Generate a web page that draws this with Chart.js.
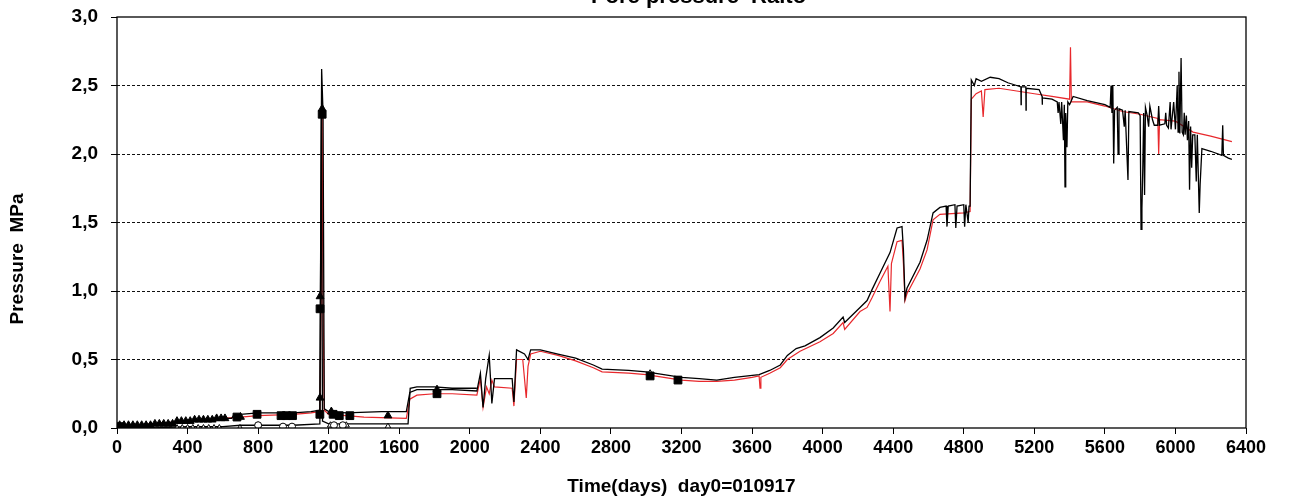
<!DOCTYPE html>
<html lang="en">
<head>
  <meta charset="UTF-8">
  <title>Pore pressure Raito</title>
  <script src="https://cdn.jsdelivr.net/npm/chart.js"></script>
  <style>
    html, body { margin: 0; padding: 0; background: #fff; overflow: hidden; }
    #wrap { position: relative; width: 1289px; height: 502px; }
  </style>
</head>
<body>
  <div id="wrap"><canvas id="poreChart" width="1289" height="502"></canvas></div>
  <script>
    // --- data: [day, MPa] ---
    const titleText = 'Pore pressure  Raito';
    const xTitle = 'Time(days)  day0=010917';
    const yTitle = 'Pressure  MPa';

    const xTicks = [0, 400, 800, 1200, 1600, 2000, 2400, 2800, 3200, 3600, 4000, 4400, 4800, 5200, 5600, 6000, 6400];
    const yTicks = [0, 0.5, 1, 1.5, 2, 2.5, 3];
    const yTickLabels = ['0,0', '0,5', '1,0', '1,5', '2,0', '2,5', '3,0'];

    const blackUpper = [
      [0,0.02],[100,0.02],[200,0.03],[300,0.04],[400,0.05],[500,0.06],[600,0.07],[650,0.07],[660,0.09],[700,0.10],
      [800,0.11],[1000,0.11],[1100,0.12],[1150,0.13],[1160,2.62],[1168,2.30],[1175,0.14],[1200,0.12],[1300,0.11],
      [1500,0.12],[1640,0.12],[1660,0.26],[1700,0.28],[1800,0.28],[1900,0.28],[2040,0.27],[2060,0.40],[2075,0.15],
      [2090,0.36],[2110,0.53],[2125,0.18],[2140,0.36],[2240,0.36],[2250,0.19],[2265,0.57],[2310,0.54],[2330,0.50],
      [2345,0.57],[2400,0.57],[2500,0.54],[2600,0.51],[2700,0.46],[2750,0.43],[2900,0.42],[3000,0.41],[3100,0.39],
      [3200,0.37],[3300,0.36],[3400,0.35],[3500,0.37],[3640,0.39],[3700,0.42],[3760,0.46],[3800,0.53],[3850,0.58],
      [3900,0.60],[3985,0.66],[4060,0.73],[4116,0.81],[4125,0.77],[4212,0.88],[4252,0.93],[4280,1.01],[4325,1.13],
      [4382,1.28],[4422,1.46],[4450,1.47],[4458,1.30],[4467,0.95],[4478,1.02],[4552,1.21],[4592,1.37],[4626,1.57],
      [4665,1.61],[4700,1.62],[4705,1.47],[4712,1.62],[4750,1.63],[4755,1.46],[4762,1.62],[4800,1.63],[4805,1.47],
      [4812,1.63],[4825,1.50],[4830,1.62],[4836,1.62],[4843,2.54],[4860,2.50],[4870,2.55],[4900,2.53],[4950,2.56],
      [5000,2.55],[5050,2.52],[5100,2.50],[5124,2.49],[5125,2.36],[5126,2.49],[5152,2.49],[5153,2.32],[5154,2.48],
      [5227,2.47],[5244,2.42],[5245,2.36],[5246,2.41],[5300,2.40],[5330,2.38],[5335,2.30],[5340,2.38],[5350,2.22],
      [5355,2.38],[5365,2.10],[5370,2.36],[5374,1.76],[5378,2.30],[5385,2.05],[5390,2.38],[5400,2.36],[5420,2.42],
      [5500,2.39],[5600,2.36],[5630,2.34],[5635,2.50],[5640,2.30],[5645,2.50],[5650,1.93],[5655,2.32],[5670,2.34],
      [5675,2.00],[5680,2.33],[5700,2.32],[5710,2.20],[5715,2.32],[5731,1.81],[5736,2.31],[5790,2.30],[5800,2.28],
      [5805,1.45],[5810,1.60],[5815,1.90],[5820,2.30],[5825,1.70],[5830,2.34],[5840,2.28],[5848,2.20],[5855,2.35],
      [5870,2.25],[5880,2.21],[5900,2.21],[5905,2.35],[5910,2.21],[5940,2.22],[5945,2.30],[5950,2.21],[5960,2.19],
      [5970,2.38],[5975,2.18],[5990,2.38],[6000,2.18],[6010,2.50],[6015,2.16],[6020,2.60],[6025,2.15],[6032,2.70],
      [6038,2.16],[6045,2.14],[6050,2.30],[6055,2.14],[6062,2.28],[6068,2.10],[6075,2.24],[6080,1.74],[6086,2.20],
      [6092,1.90],[6098,2.14],[6110,2.14],[6118,1.80],[6124,2.14],[6135,1.57],[6140,1.78],[6150,2.04],[6200,2.02],
      [6263,1.99],[6268,2.21],[6272,1.99],[6300,1.97],[6320,1.96]
    ];

    const blackLower = [
      [0,0.00],[200,0.00],[400,0.01],[600,0.01],[700,0.02],[1000,0.02],[1150,0.03],[1158,2.30],[1165,0.05],
      [1200,0.03],[1400,0.03],[1650,0.03],[1662,0.29],[1700,0.30],[1800,0.30],[1900,0.29],[2040,0.29]
    ];

    const redSeries = [
      [0,0.01],[200,0.03],[400,0.05],[600,0.07],[700,0.08],[800,0.09],[1000,0.10],[1100,0.11],[1150,0.12],
      [1158,1.00],[1163,2.30],[1168,0.90],[1175,0.13],[1200,0.10],[1300,0.09],[1400,0.08],[1640,0.07],[1660,0.21],
      [1700,0.24],[1800,0.25],[1900,0.25],[2040,0.24],[2060,0.36],[2075,0.15],[2095,0.30],[2110,0.25],[2125,0.35],
      [2140,0.30],[2240,0.29],[2250,0.16],[2265,0.50],[2300,0.50],[2320,0.22],[2330,0.45],[2345,0.54],[2400,0.56],
      [2500,0.53],[2600,0.49],[2700,0.44],[2750,0.41],[2900,0.40],[3000,0.39],[3100,0.37],[3200,0.35],[3300,0.34],
      [3400,0.34],[3500,0.35],[3600,0.37],[3640,0.38],[3645,0.29],[3650,0.37],[3700,0.40],[3760,0.44],[3800,0.50],
      [3872,0.56],[3985,0.63],[4060,0.69],[4116,0.77],[4125,0.72],[4212,0.85],[4252,0.88],[4280,0.95],[4325,1.07],
      [4370,1.18],[4382,0.85],[4390,1.20],[4422,1.36],[4450,1.37],[4458,1.20],[4467,0.93],[4478,0.98],[4552,1.16],
      [4592,1.30],[4626,1.52],[4665,1.56],[4800,1.57],[4836,1.58],[4843,2.40],[4870,2.44],[4900,2.46],[4910,2.27],
      [4920,2.47],[5000,2.48],[5100,2.46],[5200,2.44],[5300,2.42],[5400,2.40],[5405,2.78],[5410,2.38],[5500,2.38],
      [5600,2.35],[5700,2.31],[5800,2.29],[5900,2.26],[5905,2.00],[5910,2.25],[6000,2.24],[6100,2.16],[6200,2.13],
      [6320,2.09]
    ];

    const squarePts = [
      [20,0.01],[680,0.08],[794,0.10],[930,0.09],[960,0.09],[995,0.09],[1150,0.10],[1151,0.87],[1163,2.29],
      [1225,0.10],[1260,0.09],[1320,0.09],[1814,0.25],[3022,0.38],[3180,0.35]
    ];
    const trianglePts = [
      [15,0.02],[40,0.02],[65,0.02],[90,0.02],[115,0.02],[140,0.02],[165,0.02],[190,0.02],[215,0.03],[240,0.03],
      [265,0.03],[290,0.03],[315,0.03],[340,0.05],[365,0.05],[390,0.05],[415,0.05],[440,0.06],[465,0.06],[490,0.06],
      [515,0.06],[540,0.06],[565,0.07],[590,0.07],[612,0.07],[700,0.08],[1151,0.22],[1151,0.96],[1163,2.33],
      [1215,0.12],[1536,0.09],[1814,0.28]
    ];
    const openCirclePts = [[941,0.01],[992,0.01],[800,0.02],[1230,0.02],[1280,0.02]];
    const openTrianglePts = [
      [340,0.00],[370,0.00],[400,0.00],[430,0.00],[460,0.00],[490,0.00],[520,0.00],[550,0.00],[580,0.00],
      [697,0.00],[800,0.02],[1210,0.02],[1300,0.02],[1536,0.01],[3022,0.40]
    ];

    const toXY = arr => arr.map(p => ({ x: p[0], y: p[1] }));
    const fontFamily = '"Liberation Sans", Arial, sans-serif';

    function lineSet(data, color, width, order) {
      return { data: toXY(data), borderColor: color, borderWidth: width, pointRadius: 0,
               fill: false, tension: 0, order: order };
    }
    function markerSet(data, style, radius, filled) {
      return { data: toXY(data), showLine: false, pointStyle: style, pointRadius: radius,
               pointBackgroundColor: filled ? '#000' : '#fff', pointBorderColor: '#000',
               pointBorderWidth: 1, order: 0 };
    }

    // frame, title and y title drawn on top of the chart
    const framePlugin = {
      id: 'frame',
      afterDraw(chart) {
        const { ctx, chartArea: a } = chart;
        ctx.save();
        ctx.strokeStyle = '#000';
        ctx.lineWidth = 1.3;
        ctx.strokeRect(a.left, a.top, a.right - a.left, a.bottom - a.top);
        ctx.fillStyle = '#000';
        ctx.textAlign = 'center';
        ctx.textBaseline = 'alphabetic';
        ctx.font = 'bold 22px ' + fontFamily;
        ctx.fillText(titleText, (a.left + a.right) / 2 + 17, 3);
        ctx.translate(18, 259);
        ctx.rotate(-Math.PI / 2);
        ctx.textBaseline = 'middle';
        ctx.font = 'bold 19px ' + fontFamily;
        ctx.fillText(yTitle, 0, 0);
        ctx.restore();
      }
    };

    new Chart(document.getElementById('poreChart').getContext('2d'), {
      type: 'line',
      data: {
        datasets: [
          lineSet(blackUpper, '#000', 1.3, 2),
          lineSet(blackLower, '#000', 1.3, 3),
          lineSet(redSeries, '#e8282c', 1.2, 4),
          markerSet(squarePts, 'rect', 5.5, true),
          markerSet(trianglePts, 'triangle', 4.5, true),
          markerSet(openCirclePts, 'circle', 3.5, false),
          markerSet(openTrianglePts, 'triangle', 3.5, false)
        ]
      },
      options: {
        responsive: false,
        animation: false,
        layout: { padding: { top: 17, right: 43, left: 0, bottom: 0 } },
        plugins: { legend: { display: false }, tooltip: { enabled: false }, title: { display: false } },
        scales: {
          x: {
            type: 'linear', min: 0, max: 6400,
            afterBuildTicks: s => { s.ticks = xTicks.map(v => ({ value: v })); },
            afterFit: s => { s.height = 74; s.paddingLeft = 0; s.paddingRight = 0; },
            grid: { drawOnChartArea: false, drawTicks: true, tickLength: 6, tickColor: '#000', tickWidth: 1 },
            border: { display: false },
            ticks: { color: '#000', padding: 3, maxRotation: 0, autoSkip: false,
                     font: { family: fontFamily, size: 18, weight: 'bold' },
                     callback: v => String(v) },
            title: { display: true, text: xTitle, color: '#000', padding: { top: 0, bottom: 4 },
                     font: { family: fontFamily, size: 19, weight: 'bold' } }
          },
          y: {
            min: 0, max: 3,
            afterBuildTicks: s => { s.ticks = yTicks.map(v => ({ value: v })); },
            afterFit: s => { s.width = 117; s.paddingTop = 0; s.paddingBottom = 0; },
            grid: {
              color: c => (c.tick && (c.tick.value === 0 || c.tick.value === 3)) ? 'rgba(0,0,0,0)' : '#111',
              lineWidth: 1, tickLength: 6, tickColor: '#000', tickWidth: 1, tickBorderDash: []
            },
            border: { display: false, dash: [3, 2] },
            ticks: { color: '#000', padding: 13,
                     font: { family: fontFamily, size: 19, weight: 'bold' },
                     callback: (v, i) => yTickLabels[i] }
          }
        }
      },
      plugins: [framePlugin]
    });
  </script>
</body>
</html>
